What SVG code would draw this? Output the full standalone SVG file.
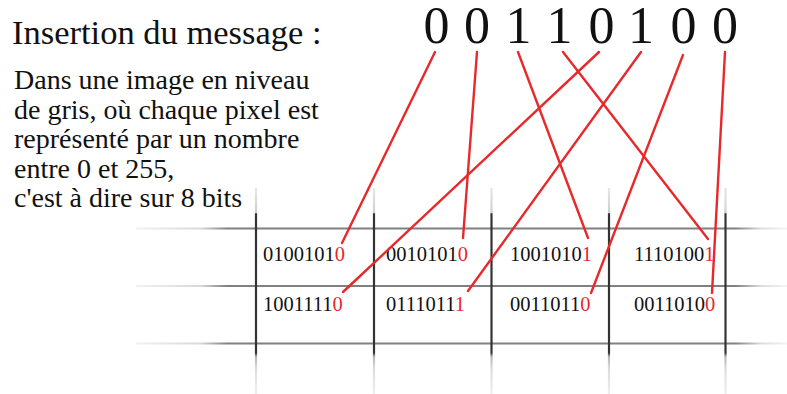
<svg xmlns="http://www.w3.org/2000/svg" width="787" height="394" viewBox="0 0 787 394">
  <defs>
    <!-- horizontal grid rule: faded at both ends, solid in the middle -->
    <linearGradient id="hfade" gradientUnits="userSpaceOnUse" x1="136" y1="0" x2="787" y2="0">
      <stop offset="0" stop-color="#f2f2f2"/>
      <stop offset="0.10" stop-color="#d8d8d8"/>
      <stop offset="0.14" stop-color="#808080"/>
      <stop offset="0.92" stop-color="#808080"/>
      <stop offset="0.96" stop-color="#dcdcdc"/>
      <stop offset="1" stop-color="#f4f4f4"/>
    </linearGradient>
    <!-- vertical grid rule: faint tails above and below the dark part -->
    <linearGradient id="vfade" gradientUnits="userSpaceOnUse" x1="0" y1="188" x2="0" y2="394">
      <stop offset="0" stop-color="#e6e6e6"/>
      <stop offset="0.12" stop-color="#cfcfcf"/>
      <stop offset="0.125" stop-color="#333333"/>
      <stop offset="0.80" stop-color="#333333"/>
      <stop offset="0.82" stop-color="#b8b8b8"/>
      <stop offset="0.88" stop-color="#dddddd"/>
      <stop offset="1" stop-color="#eeeeee"/>
    </linearGradient>
  </defs>
  <style>
    text { font-family: "Liberation Serif", "Times New Roman", serif; fill: #111; }
    .title { font-size: 34.5px; }
    .para { font-size: 28px; }
    .bit { font-size: 52px; text-anchor: middle; }
    .cell { font-size: 20.5px; }
    .lsb { fill: #e8292b; }
    .hrule { stroke: url(#hfade); stroke-width: 2; fill: none; }
    .vrule { stroke: url(#vfade); stroke-width: 2.2; fill: none; }
    .link { stroke: #e8292b; stroke-width: 2.4; stroke-linecap: round; fill: none; }
  </style>
  <rect width="787" height="394" fill="#ffffff"/>

  <!-- heading and explanation -->
  <g id="heading">
    <text class="title" x="12" y="44">Insertion du message :</text>
  </g>
  <g id="explanation">
    <text class="para" x="14" y="89">Dans une image en niveau</text>
    <text class="para" x="14" y="119">de gris, où chaque pixel est</text>
    <text class="para" x="14" y="148">représenté par un nombre</text>
    <text class="para" x="14" y="178">entre 0 et 255,</text>
    <text class="para" x="14" y="207">c'est à dire sur 8 bits</text>
  </g>

  <!-- message bits -->
  <g id="message">
    <text class="bit" x="436.5" y="43">0</text>
    <text class="bit" x="477" y="43">0</text>
    <text class="bit" x="518.5" y="43">1</text>
    <text class="bit" x="559.5" y="43">1</text>
    <text class="bit" x="601.5" y="43">0</text>
    <text class="bit" x="641" y="43">1</text>
    <text class="bit" x="683.5" y="43">0</text>
    <text class="bit" x="725" y="43">0</text>
  </g>

  <!-- pixel grid -->
  <g id="grid">
    <line class="hrule" x1="136" y1="228.5" x2="787" y2="228.5"/>
    <line class="hrule" x1="136" y1="286" x2="787" y2="286"/>
    <line class="hrule" x1="136" y1="343.5" x2="787" y2="343.5"/>
    <line class="vrule" x1="256" y1="188" x2="256" y2="394"/>
    <line class="vrule" x1="374" y1="188" x2="374" y2="394"/>
    <line class="vrule" x1="491.5" y1="188" x2="491.5" y2="394"/>
    <line class="vrule" x1="609" y1="188" x2="609" y2="394"/>
    <line class="vrule" x1="725.5" y1="188" x2="725.5" y2="394"/>
  </g>

  <!-- pixel values, least significant bit in red -->
  <g id="px-1-1"><text class="cell" x="263" y="261">0100101<tspan class="lsb">0</tspan></text></g>
  <g id="px-1-2"><text class="cell" x="386" y="261">0010101<tspan class="lsb">0</tspan></text></g>
  <g id="px-1-3"><text class="cell" x="510" y="261">1001010<tspan class="lsb">1</tspan></text></g>
  <g id="px-1-4"><text class="cell" x="634" y="261">1110100<tspan class="lsb">1</tspan></text></g>
  <g id="px-2-1"><text class="cell" x="263" y="311">1001111<tspan class="lsb">0</tspan></text></g>
  <g id="px-2-2"><text class="cell" x="386" y="311">0111011<tspan class="lsb">1</tspan></text></g>
  <g id="px-2-3"><text class="cell" x="510" y="311">0011011<tspan class="lsb">0</tspan></text></g>
  <g id="px-2-4"><text class="cell" x="634" y="311">0011010<tspan class="lsb">0</tspan></text></g>

  <!-- each message bit goes to the low bit of one pixel -->
  <g id="links">
    <line class="link" x1="435" y1="52" x2="342" y2="243"/>
    <line class="link" x1="477" y1="52" x2="463" y2="238"/>
    <line class="link" x1="518" y1="52" x2="588" y2="238"/>
    <line class="link" x1="563" y1="52" x2="708" y2="239"/>
    <line class="link" x1="599" y1="52" x2="343" y2="292"/>
    <line class="link" x1="641" y1="52" x2="468" y2="291"/>
    <line class="link" x1="683" y1="55" x2="591" y2="293"/>
    <line class="link" x1="725" y1="52" x2="712" y2="293"/>
  </g>
</svg>
